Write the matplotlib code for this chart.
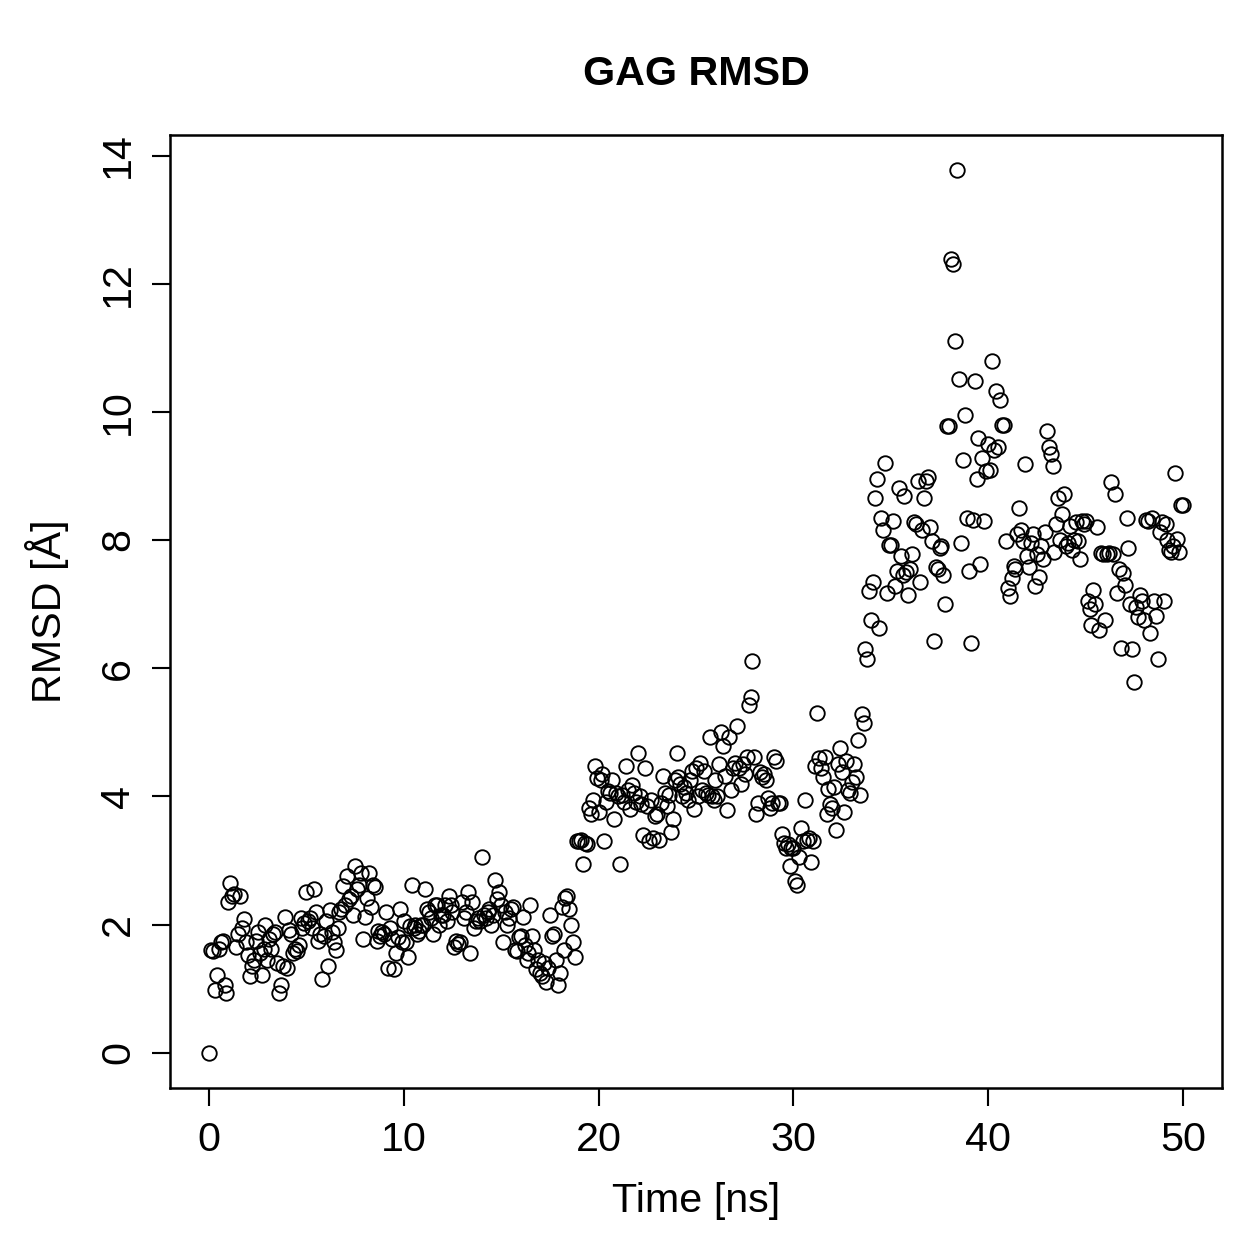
import numpy as np
import matplotlib
matplotlib.use("Agg")
import matplotlib.pyplot as plt

# Time axis: 0.0 .. 50.0 ns every 0.1 ns
time_ns = [round(0.1 * i, 1) for i in range(501)]

# RMSD values [Å], 10 per ns
rmsd = [
    0.0, 1.6, 1.58, 0.98, 1.22, 1.62, 1.72, 1.74, 1.05, 0.93,
    2.35, 2.65, 2.45, 2.48, 1.65, 1.85, 2.45, 1.95, 2.08, 1.72,
    1.52, 1.2, 1.35, 1.45, 1.75, 1.88, 1.55, 1.22, 1.62, 2.0,
    1.45, 1.78, 1.62, 1.85, 1.88, 1.4, 0.93, 1.05, 1.35, 2.12,
    1.32, 1.92, 1.85, 1.55, 1.62, 1.58, 1.68, 2.1, 1.95, 2.02,
    2.5, 2.05, 2.1, 1.95, 2.55, 2.2, 1.75, 1.85, 1.15, 1.82,
    2.05, 1.35, 2.22, 1.88, 1.72, 1.6, 1.95, 2.2, 2.25, 2.6,
    2.3, 2.75, 2.4, 2.45, 2.15, 2.92, 2.55, 2.62, 2.8, 1.78,
    2.12, 2.42, 2.8, 2.28, 2.62, 2.58, 1.75, 1.9, 1.82, 1.88,
    1.85, 2.2, 1.32, 1.95, 1.78, 1.3, 1.55, 1.8, 2.25, 1.72,
    2.05, 1.72, 1.5, 1.98, 2.62, 1.95, 2.0, 1.85, 1.9, 2.0,
    2.0, 2.55, 2.25, 2.2, 2.1, 1.85, 2.3, 2.3, 2.0, 2.15,
    2.15, 2.3, 2.05, 2.45, 2.3, 2.2, 1.65, 1.75, 1.7, 1.72,
    2.35, 2.1, 2.2, 2.5, 1.55, 2.35, 1.95, 2.05, 2.1, 2.05,
    3.05, 2.15, 2.1, 2.2, 2.25, 2.0, 2.15, 2.7, 2.4, 2.5,
    2.3, 1.72, 2.2, 2.0, 2.1, 2.25, 2.28, 1.6, 1.58, 1.8,
    1.82, 2.12, 1.68, 1.45, 1.55, 2.3, 1.82, 1.6, 1.3, 1.45,
    1.25, 1.2, 1.4, 1.1, 1.32, 2.15, 1.82, 1.85, 1.45, 1.05,
    1.25, 2.28, 1.6, 2.42, 2.45, 2.25, 2.0, 1.72, 1.5, 3.3,
    3.3, 3.32, 2.95, 3.28, 3.25, 3.82, 3.72, 3.95, 4.48, 4.28,
    3.75, 4.25, 4.35, 3.3, 3.92, 4.08, 4.05, 4.25, 3.65, 4.05,
    4.0, 2.95, 4.02, 3.92, 4.48, 4.1, 3.8, 4.18, 4.05, 3.92,
    4.68, 4.0, 3.88, 3.4, 4.45, 3.85, 3.3, 3.95, 3.35, 3.7,
    3.72, 3.32, 3.9, 4.32, 4.05, 3.85, 4.02, 3.45, 3.65, 4.25,
    4.68, 4.3, 4.2, 4.0, 4.15, 4.05, 3.95, 4.25, 4.4, 3.8,
    4.45, 4.0, 4.52, 4.1, 4.4, 4.05, 4.02, 4.92, 4.0, 3.95,
    4.25, 4.0, 4.5, 5.0, 4.78, 4.32, 3.78, 4.92, 4.1, 4.45,
    4.52, 5.1, 4.45, 4.2, 4.5, 4.35, 4.62, 5.42, 5.55, 6.12,
    4.62, 3.72, 3.9, 4.38, 4.3, 4.35, 4.25, 3.98, 3.82, 3.9,
    4.62, 4.55, 3.9, 3.9, 3.42, 3.28, 3.2, 3.25, 2.92, 3.2,
    3.2, 2.68, 2.62, 3.05, 3.5, 3.3, 3.95, 3.32, 3.35, 2.98,
    3.3, 4.48, 5.3, 4.6, 4.45, 4.3, 4.62, 3.72, 4.12, 3.88,
    3.82, 4.15, 3.48, 4.5, 4.75, 4.38, 3.75, 4.55, 4.1, 4.05,
    4.22, 4.5, 4.3, 4.88, 4.02, 5.28, 5.15, 6.3, 6.15, 7.2,
    6.75, 7.35, 8.65, 8.95, 6.62, 8.35, 8.15, 9.2, 7.18, 7.92,
    7.92, 8.3, 7.28, 7.52, 8.82, 7.75, 7.45, 8.68, 7.5, 7.15,
    7.55, 7.78, 8.28, 8.25, 8.92, 7.35, 8.15, 8.65, 8.92, 8.98,
    8.2, 7.98, 6.42, 7.58, 7.55, 7.88, 7.9, 7.45, 7.0, 9.78,
    9.78, 12.38, 12.3, 11.1, 13.77, 10.52, 7.95, 9.25, 9.95, 8.35,
    7.52, 6.4, 8.32, 10.48, 8.95, 9.6, 7.62, 9.28, 8.3, 9.08,
    9.5, 9.1, 10.8, 9.4, 10.32, 9.45, 10.18, 9.8, 9.8, 7.98,
    7.25, 7.12, 7.4, 7.6, 7.55, 8.1, 8.5, 8.15, 7.98, 9.18,
    7.75, 7.58, 7.95, 8.1, 7.28, 7.78, 7.42, 7.9, 7.7, 8.12,
    9.7, 9.45, 9.35, 9.15, 7.82, 8.25, 8.65, 8.0, 8.4, 8.72,
    7.9, 7.95, 8.22, 7.85, 8.0, 8.28, 7.98, 7.7, 8.3, 8.25,
    8.3, 7.05, 6.92, 6.68, 7.22, 7.0, 8.2, 6.6, 7.8, 7.78,
    6.75, 7.78, 7.8, 8.9, 7.78, 8.72, 7.18, 7.55, 6.32, 7.48,
    7.3, 8.35, 7.88, 7.0, 6.3, 5.78, 6.95, 6.8, 7.15, 7.05,
    6.75, 8.32, 8.3, 6.55, 8.35, 7.05, 6.82, 6.15, 8.12, 8.28,
    7.05, 8.25, 8.0, 7.85, 7.82, 7.9, 9.05, 8.02, 7.82, 8.55, 8.55,
]

x_ticks = [0, 10, 20, 30, 40, 50]
y_ticks = [0, 2, 4, 6, 8, 10, 12, 14]

plt.rcParams['font.family'] = ['Liberation Sans', 'DejaVu Sans']

fig = plt.figure(figsize=(1259 / 180, 1259 / 180), dpi=180)
ax = fig.add_axes([170 / 1259, 1 - 1088 / 1259, (1222 - 170) / 1259, (1088 - 135) / 1259])

ax.plot(time_ns, rmsd, linestyle='none', marker='o', markersize=5.8,
        markerfacecolor='none', markeredgecolor='black', markeredgewidth=0.75)

xr = max(time_ns) - min(time_ns)
yr = max(rmsd) - min(rmsd)
ax.set_xlim(min(time_ns) - 0.04 * xr, max(time_ns) + 0.04 * xr)
ax.set_ylim(min(rmsd) - 0.04 * yr, max(rmsd) + 0.04 * yr)

ax.set_xticks(x_ticks)
ax.set_yticks(y_ticks)
ax.tick_params(direction='out', length=7.2, width=0.85, labelsize=16.5, pad=6, color='black')
for lab in ax.get_yticklabels():
    lab.set_rotation(90)
    lab.set_va('center')

for s in ax.spines.values():
    s.set_linewidth(1.0)

ax.set_xlabel('Time [ns]', fontsize=16.5, labelpad=9)
ax.set_ylabel('RMSD [Å]', fontsize=16.5, labelpad=12)
ax.set_title('GAG RMSD', fontsize=16.5, fontweight='bold', pad=20)

fig.savefig('out.png', dpi=180)
